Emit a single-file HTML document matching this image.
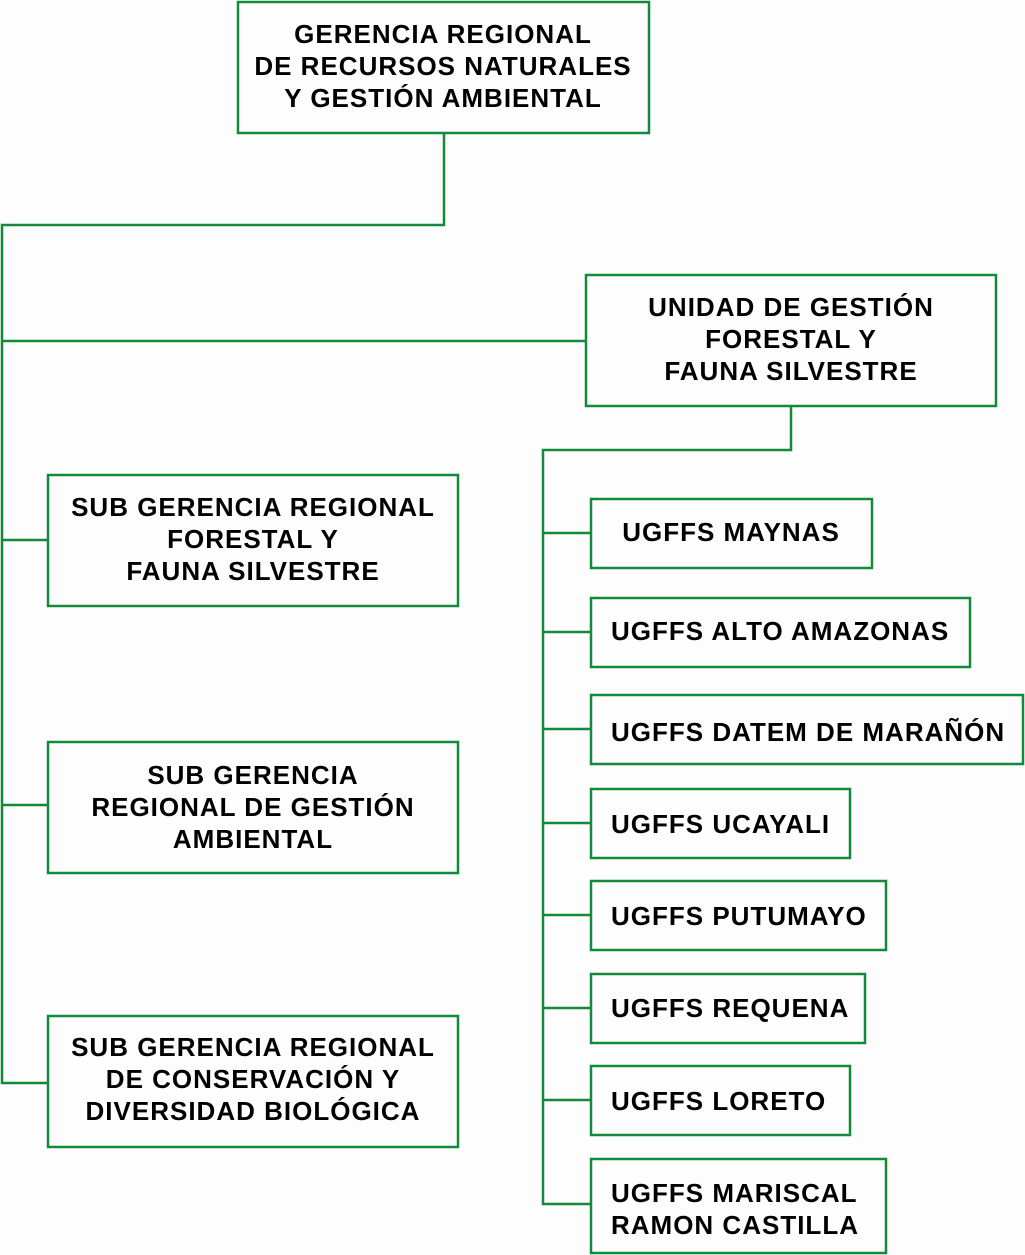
<!DOCTYPE html>
<html><head><meta charset="utf-8"><style>
html,body{margin:0;padding:0;background:#fdfdfd;}
svg{display:block}
text{font-family:"Liberation Sans",sans-serif;font-weight:bold;font-size:26px;fill:#000;letter-spacing:1px;}
</style></head><body>
<svg width="1025" height="1255" viewBox="0 0 1025 1255">
<g fill="none" stroke="#13893c" stroke-width="2.5">
<rect x="238" y="2" width="411" height="131"/>
<rect x="586" y="275" width="410" height="131"/>
<rect x="48" y="475" width="410" height="131"/>
<rect x="48" y="742" width="410" height="131"/>
<rect x="48" y="1016" width="410" height="131"/>
<rect x="591" y="499" width="281" height="69"/>
<rect x="591" y="598" width="379" height="69"/>
<rect x="591" y="695" width="432" height="69"/>
<rect x="591" y="789" width="259" height="69"/>
<rect x="591" y="881" width="295" height="69"/>
<rect x="591" y="974" width="274" height="69"/>
<rect x="591" y="1066" width="259" height="69"/>
<rect x="591" y="1159" width="295" height="94"/>
<polyline points="444,134 444,225 2,225 2,1083 48,1083"/>
<line x1="2" y1="341" x2="586" y2="341"/>
<line x1="2" y1="540" x2="48" y2="540"/>
<line x1="2" y1="805" x2="48" y2="805"/>
<polyline points="791,407 791,450 543,450 543,1204 591,1204"/>
<line x1="543" y1="533" x2="591" y2="533"/>
<line x1="543" y1="632" x2="591" y2="632"/>
<line x1="543" y1="729" x2="591" y2="729"/>
<line x1="543" y1="823" x2="591" y2="823"/>
<line x1="543" y1="915" x2="591" y2="915"/>
<line x1="543" y1="1008" x2="591" y2="1008"/>
<line x1="543" y1="1100" x2="591" y2="1100"/>
</g>
<g text-anchor="middle">
<text x="443" y="43">GERENCIA REGIONAL</text>
<text x="443" y="75">DE RECURSOS NATURALES</text>
<text x="443" y="107">Y GESTIÓN AMBIENTAL</text>
<text x="791" y="316">UNIDAD DE GESTIÓN</text>
<text x="791" y="348">FORESTAL Y</text>
<text x="791" y="380">FAUNA SILVESTRE</text>
<text x="253" y="516">SUB GERENCIA REGIONAL</text>
<text x="253" y="548">FORESTAL Y</text>
<text x="253" y="580">FAUNA SILVESTRE</text>
<text x="253" y="784">SUB GERENCIA</text>
<text x="253" y="816">REGIONAL DE GESTIÓN</text>
<text x="253" y="848">AMBIENTAL</text>
<text x="253" y="1056">SUB GERENCIA REGIONAL</text>
<text x="253" y="1088">DE CONSERVACIÓN Y</text>
<text x="253" y="1120">DIVERSIDAD BIOLÓGICA</text>
<text x="731" y="541">UGFFS MAYNAS</text>
</g>
<text x="611" y="640">UGFFS ALTO AMAZONAS</text>
<text x="611" y="741">UGFFS DATEM DE MARAÑÓN</text>
<text x="611" y="833">UGFFS UCAYALI</text>
<text x="611" y="925">UGFFS PUTUMAYO</text>
<text x="611" y="1017">UGFFS REQUENA</text>
<text x="611" y="1110">UGFFS LORETO</text>
<text x="611" y="1202">UGFFS MARISCAL</text>
<text x="611" y="1234">RAMON CASTILLA</text>
</svg>
</body></html>
